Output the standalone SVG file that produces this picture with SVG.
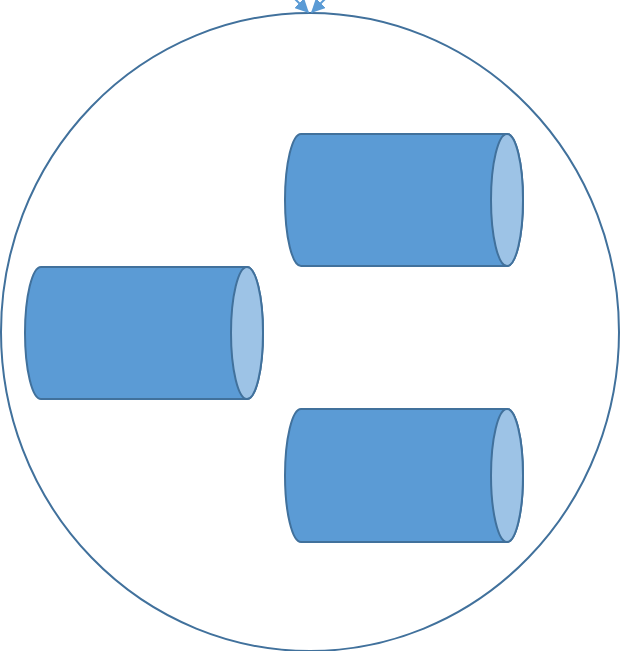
<svg xmlns="http://www.w3.org/2000/svg" width="623" height="651" viewBox="0 0 623 651">
<style>
.body{fill:#5B9BD5;stroke:#41719C;stroke-width:2}
.cap{fill:#9DC3E6;stroke:#41719C;stroke-width:2}
.conn{stroke:#5B9BD5;stroke-width:2;fill:none}
</style>
<defs>
<marker id="ah" viewBox="0 0 10 10" refX="9" refY="5" markerWidth="7" markerHeight="7" orient="auto">
<path d="M0,0 L10,5 L0,10 Z" fill="#5B9BD5"/>
</marker>
</defs>
<rect width="623" height="651" fill="#fff"/>
<g id="circle">
<ellipse cx="310" cy="332" rx="309" ry="319" fill="none" stroke="#41719C" stroke-width="2"/>
</g>
<g id="connectors">
<line class="conn" x1="286" y1="-10" x2="308" y2="12" marker-end="url(#ah)"/>
<line class="conn" x1="334" y1="-10" x2="312" y2="12" marker-end="url(#ah)"/>
</g>
<g id="cyl1">
<path class="body" d="M301,134 L507,134 A16,66 0 0 1 507,266 L301,266 A16,66 0 0 1 301,134 Z"/>
<ellipse class="cap" cx="507" cy="200" rx="16" ry="66"/>
</g>
<g id="cyl2">
<path class="body" d="M41,267 L247,267 A16,66 0 0 1 247,399 L41,399 A16,66 0 0 1 41,267 Z"/>
<ellipse class="cap" cx="247" cy="333" rx="16" ry="66"/>
</g>
<g id="cyl3">
<path class="body" d="M301,409 L507,409 A16,66.5 0 0 1 507,542 L301,542 A16,66.5 0 0 1 301,409 Z"/>
<ellipse class="cap" cx="507" cy="475.5" rx="16" ry="66.5"/>
</g>
</svg>
